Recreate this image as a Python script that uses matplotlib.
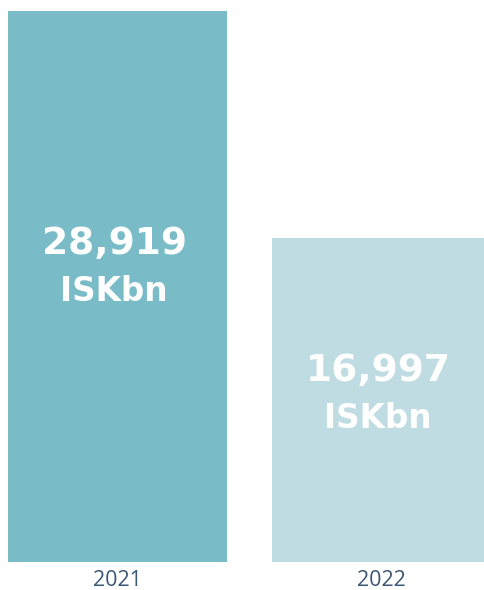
import matplotlib
matplotlib.use("Agg")
import matplotlib.pyplot as plt

years = ["2021", "2022"]
values = [28919, 16997]
value_labels = ["28,919", "16,997"]
unit = "ISKbn"
colors = ["#79BCC8", "#BFDCE2"]

fig = plt.figure(figsize=(4.85, 5.90), dpi=100)
ax = fig.add_axes([0, 28/590, 1, 551/590])
x = list(range(len(years)))
width = 0.83
ax.bar(x, values, width=width, color=colors, edgecolor="none")
ax.set_xlim(-0.4453, 1.3918)
ax.set_ylim(0, max(values))
for s in ax.spines.values():
    s.set_visible(False)
ax.set_yticks([])
ax.set_xticks(x)
ax.set_xticklabels(years, fontfamily="Open Sans", fontsize=15.5, color="#3C5775")
ax.tick_params(axis="x", length=0, pad=6)

fracs = [0.577, 0.59]
for xi, v, lab, f in zip(x, values, value_labels, fracs):
    y = v * f
    ax.annotate(lab, (xi - 0.013, y), ha="center", va="center",
                fontfamily="DejaVu Sans", fontweight="bold", fontsize=27, color="white")
    ax.annotate(unit, (xi - 0.013, y), xytext=(0, -34), textcoords="offset points",
                ha="center", va="center",
                fontfamily="DejaVu Sans", fontweight="bold", fontsize=23.5, color="white")

fig.savefig("out.png", dpi=100)
